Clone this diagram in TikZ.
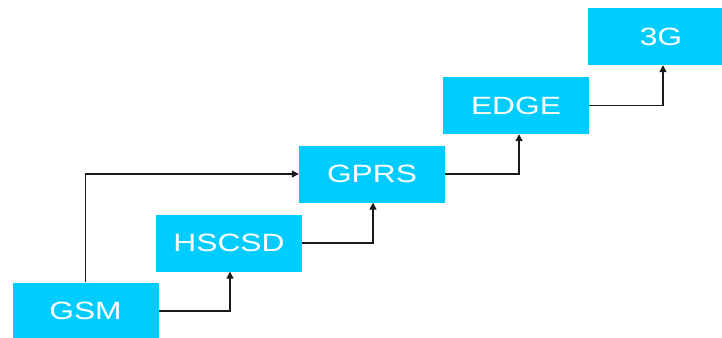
\documentclass[tikz,border=0pt]{standalone}
\usepackage{fontspec}
\setmainfont{Liberation Sans}
\usetikzlibrary{arrows.meta}
\definecolor{boxblue}{HTML}{00CCFF}
\definecolor{linegray}{HTML}{1A1A1A}
\tikzset{
  stage/.style={fill=boxblue, draw=none, minimum width=146pt, minimum height=57pt,
    inner sep=0pt, text=white, font=\fontsize{25}{30}\selectfont},
  link/.style={draw=linegray, line width=1.4pt,
    -{Triangle[length=7pt,width=7pt]}}
}
\newcommand{\wide}[1]{\raisebox{-2pt}{\scalebox{1.27}[1]{#1}}}
\begin{document}
\begin{tikzpicture}[x=1pt, y=-1pt]
  \useasboundingbox (0,0) rectangle (722,337);
  \clip (0,0) rectangle (722,337);
  \node[stage] (gsm)   at (85.5,311)  {\wide{GSM}};
  \node[stage] (hscsd) at (229,243)   {\wide{HSCSD}};
  \node[stage] (gprs)  at (372,174)   {\wide{GPRS}};
  \node[stage] (edge)  at (516,105.5) {\wide{EDGE}};
  \node[stage] (g3)    at (661,36.5)  {\wide{3G}};
  \draw[link] (gsm.north) |- (gprs.west);
  \draw[link] (gsm.east) -| ([xshift=1pt]hscsd.south);
  \draw[link] (hscsd.east) -| ([xshift=1pt]gprs.south);
  \draw[link] (gprs.east) -| ([xshift=3pt]edge.south);
  \draw[link] (edge.east) -| ([xshift=2pt]g3.south);
\end{tikzpicture}
\end{document}
